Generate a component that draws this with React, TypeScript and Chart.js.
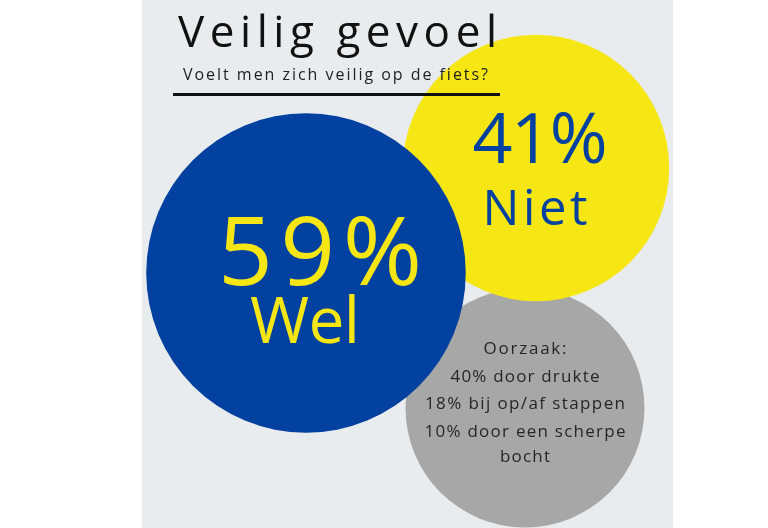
import React, { useEffect, useRef } from "react";
import { Chart, registerables } from "chart.js";

Chart.register(...registerables);

// Data
const categories = ["Wel", "Niet", "Oorzaak"];
const percentLabels = ["59%", "41%", ""];
const values = [59, 41, 33]; // bubble area ~ value
const bubbleX = [306, 536, 525];
const bubbleY = [273, 168, 408];
const colors = ["#0241a0", "#f5e614", "#a7a7a7"];
const causeLines = ["Oorzaak:", "40% door drukte", "18% bij op/af stappen", "10% door een scherpe", "bocht"];
const titleText = "Veilig gevoel";
const subtitleText = "Voelt men zich veilig op de fiets?";

const FONT = '"Open Sans", "Noto Sans", sans-serif';
const RADIUS_K = 20.8;
const W = 768;
const H = 528;

function drawFit(ctx: CanvasRenderingContext2D, text: string, left: number, baseline: number, width: number, size: number, color: string) {
  ctx.save();
  ctx.font = `${size}px ${FONT}`;
  (ctx as any).letterSpacing = "0px";
  const w0 = ctx.measureText(text).width;
  const n = text.length;
  const sp = n > 1 ? (width - w0) / (n - 1) : 0;
  (ctx as any).letterSpacing = `${sp}px`;
  ctx.fillStyle = color;
  ctx.textAlign = "left";
  ctx.textBaseline = "alphabetic";
  ctx.fillText(text, left, baseline);
  ctx.restore();
}

function drawFitC(ctx: CanvasRenderingContext2D, text: string, cx: number, baseline: number, width: number, size: number, color: string) {
  drawFit(ctx, text, cx - width / 2, baseline, width, size, color);
}

const bgPlugin = {
  id: "bg",
  beforeDraw(chart: any) {
    const ctx = chart.ctx;
    ctx.save();
    ctx.fillStyle = "#ffffff";
    ctx.fillRect(0, 0, chart.width, chart.height);
    ctx.fillStyle = "#e8ecee";
    ctx.fillRect(142, 0, 531, chart.height);
    ctx.restore();
  },
};

const textPlugin = {
  id: "texts",
  afterDatasetsDraw(chart: any) {
    const ctx = chart.ctx;
    drawFit(ctx, titleText, 178, 47, 319, 44, "#111111");
    drawFit(ctx, subtitleText, 183, 80, 305, 16, "#222222");
    ctx.save();
    ctx.fillStyle = "#111111";
    ctx.fillRect(173, 93, 327, 3);
    ctx.restore();

    const wel = chart.getDatasetMeta(0).data[0];
    const niet = chart.getDatasetMeta(1).data[0];
    const oz = chart.getDatasetMeta(2).data[0];
    if (wel) {
      drawFitC(ctx, percentLabels[0], wel.x + 14, wel.y + 12, 204, 96, colors[1]);
      drawFitC(ctx, categories[0], wel.x - 1, wel.y + 70, 110, 64, colors[1]);
    }
    if (niet) {
      drawFitC(ctx, percentLabels[1], niet.x + 4, niet.y - 5, 135, 70, colors[0]);
      drawFitC(ctx, categories[1], niet.x - 1, niet.y + 57, 105, 49, colors[0]);
    }
    if (oz) {
      const offs = [-54, -26, 1, 29, 54];
      const widths = [83, 149, 200, 201, 50];
      causeLines.forEach((t, i) => {
        drawFitC(ctx, t, oz.x, oz.y + offs[i], widths[i], 17, "#262626");
      });
    }
  },
};

export default function App() {
  const ref = useRef<HTMLCanvasElement | null>(null);
  useEffect(() => {
    if (!ref.current) return;
    const radii = values.map((v) => RADIUS_K * Math.sqrt(v));
    const pad = Math.max(...radii);
    const datasets = categories.map((c, i) => ({
      label: c,
      data: [{ x: bubbleX[i], y: bubbleY[i], r: radii[i] }],
      backgroundColor: colors[i],
      borderWidth: 0,
      hoverBorderWidth: 0,
      clip: false as any,
    }));
    const chart = new Chart(ref.current, {
      type: "bubble",
      data: { datasets },
      options: {
        animation: false,
        responsive: false,
        events: [],
        layout: { padding: 0 },
        plugins: { legend: { display: false }, tooltip: { enabled: false }, title: { display: false } },
        scales: {
          x: { type: "linear", min: pad, max: W - pad, display: false },
          y: { type: "linear", min: pad, max: H - pad, reverse: true, display: false },
        },
      },
      plugins: [bgPlugin, textPlugin],
    });
    return () => chart.destroy();
  }, []);
  return (
    <div style={{ position: "fixed", left: 0, top: 0, width: W, height: H }}>
      <canvas ref={ref} width={W} height={H} style={{ width: W, height: H, display: "block" }} />
    </div>
  );
}
